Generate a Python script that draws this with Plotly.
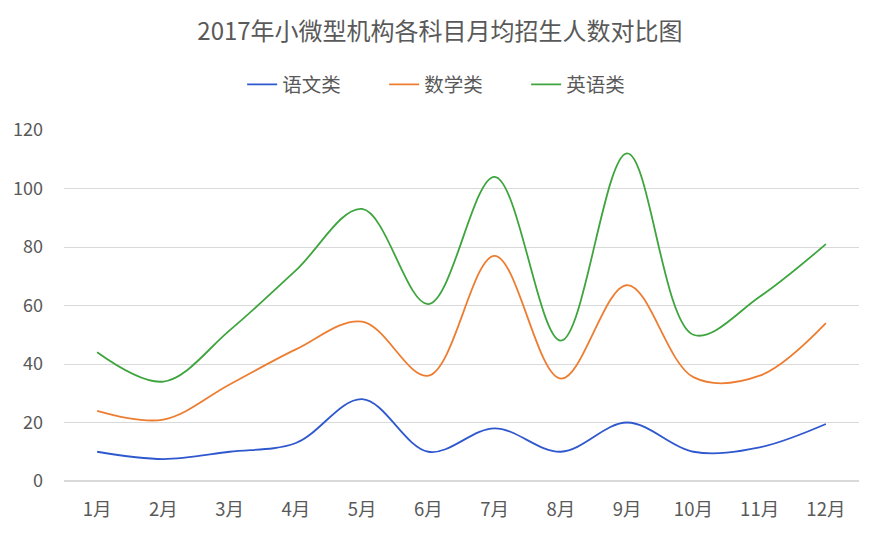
import plotly.graph_objs as go

months = ["1月", "2月", "3月", "4月", "5月", "6月", "7月", "8月", "9月", "10月", "11月", "12月"]
chinese = [10, 7.5, 10, 13, 28, 10, 18, 10, 20, 10, 11.5, 19.5]
maths = [24, 21, 33, 45, 54.5, 36, 77, 35, 67, 35.5, 36, 54]
english = [44, 34, 51.5, 72, 93, 60.5, 104, 48, 112, 50, 63, 81]

names = ["语文类", "数学类", "英语类"]
colors = ["#2f58cf", "#ed7d31", "#3ea53e"]

fig = go.Figure()
for name, vals, c in zip(names, [chinese, maths, english], colors):
    fig.add_trace(go.Scatter(x=months, y=vals, name=name, mode="lines",
                             line=dict(color=c, width=1.8, shape="spline", smoothing=1)))

font = "Noto Sans CJK SC"
# page body has an 8px margin, so everything is nudged up/left a bit
fig.update_layout(
    width=878, height=552,
    paper_bgcolor="white", plot_bgcolor="white",
    margin=dict(l=56, r=27, t=122, b=79, autoexpand=False),
    title=dict(text="2017年小微型机构各科目月均招生人数对比图", x=0.492, y=0.957, yref="container",
               xanchor="center", yanchor="middle",
               font=dict(family=font, size=24, color="#595959")),
    legend=dict(orientation="h", x=0.492, xanchor="center", y=0.861, yref="container", yanchor="middle",
                font=dict(family=font, size=19.5, color="#595959"),
                entrywidth=97, entrywidthmode="pixels"),
    xaxis=dict(range=[-0.5, 11.5], showgrid=False, showline=False, ticks="", automargin=False,
               ticklabelstandoff=15,
               tickfont=dict(family=font, size=18.5, color="#595959")),
    yaxis=dict(range=[0, 120], dtick=20, showgrid=True, gridcolor="#d9d9d9", gridwidth=1,
               zeroline=True, zerolinecolor="#d9d9d9", zerolinewidth=1.5, showline=False,
               ticks="", ticklabelstandoff=20, automargin=False,
               tickfont=dict(family=font, size=18, color="#595959")),
)
fig.write_html("out.html")
